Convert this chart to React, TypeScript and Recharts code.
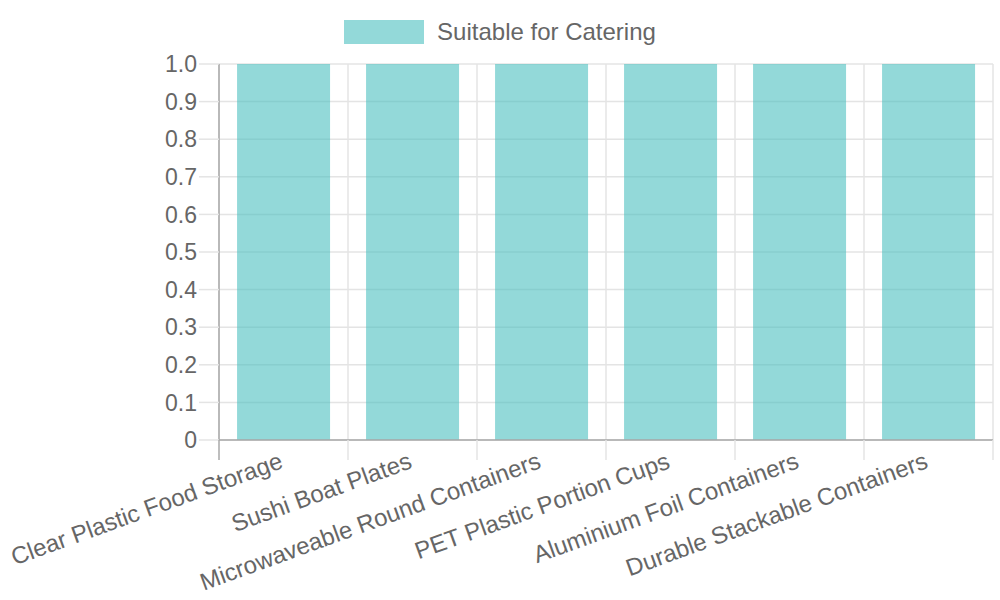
import React from 'react';
import { BarChart, Bar, XAxis, YAxis, CartesianGrid, Legend } from 'recharts';

const categories = [
  'Clear Plastic Food Storage',
  'Sushi Boat Plates',
  'Microwaveable Round Containers',
  'PET Plastic Portion Cups',
  'Aluminium Foil Containers',
  'Durable Stackable Containers',
];
const suitableForCatering = [1, 1, 1, 1, 1, 1];
const yTicks = [0, 0.1, 0.2, 0.3, 0.4, 0.5, 0.6, 0.7, 0.8, 0.9, 1.0];
const seriesName = 'Suitable for Catering';

const data = categories.map((name, i) => ({ name, value: suitableForCatering[i] }));

const FILL = 'rgba(75,192,192,0.6)';
const TEXT = '#666';
const GRID = '#e4e4e4';
const AXIS = '#a8a8a8';

const XTick = (props: any) => {
  const { x, y, payload, index, width, visibleTicksCount } = props;
  const half = width / visibleTicksCount / 2;
  const isLast = index === visibleTicksCount - 1;
  return (
    <g>
      <line x1={x - half} x2={x - half} y1={y} y2={y + 20} stroke={index === 0 ? AXIS : GRID} strokeWidth={1.5} />
      {isLast && <line x1={x + half} x2={x + half} y1={y} y2={y + 20} stroke={GRID} strokeWidth={1.5} />}
      <text
        transform={`translate(${x - 2},${y + 20}) rotate(-20)`}
        textAnchor="end"
        dy={8}
        fill={TEXT}
        fontSize={24}
      >
        {payload.value}
      </text>
    </g>
  );
};

const LegendContent = (props: any) => {
  const { payload } = props;
  return (
    <div style={{ display: 'flex', justifyContent: 'center', alignItems: 'center', height: 24 }}>
      {(payload || []).map((p: any) => (
        <div key={p.value} style={{ display: 'flex', alignItems: 'center' }}>
          <span style={{ display: 'inline-block', width: 80, height: 24, background: FILL, marginRight: 13 }} />
          <span style={{ fontSize: 24, color: TEXT, lineHeight: '24px' }}>{p.value}</span>
        </div>
      ))}
    </div>
  );
};

export default function App() {
  return (
    <div style={{ position: 'absolute', left: 0, top: 0, width: 1000, height: 600, fontFamily: '"Liberation Sans", Arial, sans-serif', background: '#fff' }}>
      <BarChart
        width={1000}
        height={600}
        data={data}
        margin={{ top: 20, right: 7, bottom: 0, left: 0 }}
        barCategoryGap="14%"
      >
        <Legend
          verticalAlign="top"
          align="center"
          width={1000}
          height={44}
          wrapperStyle={{ left: 0, top: 20, height: 44 }}
          content={<LegendContent />}
        />
        <CartesianGrid
          stroke={GRID}
          strokeWidth={1.5}
          verticalCoordinatesGenerator={({ offset }: any) =>
            categories.map((_, i) => offset.left + (i * offset.width) / categories.length).concat([offset.left + offset.width])
          }
        />
        <XAxis
          dataKey="name"
          height={160}
          interval={0}
          tickLine={false}
          tickSize={0}
          tickMargin={0}
          axisLine={{ stroke: AXIS, strokeWidth: 1.5 }}
          tick={<XTick />}
        />
        <YAxis
          width={219}
          domain={[0, 1]}
          ticks={yTicks}
          interval={0}
          tickSize={20}
          tickMargin={2}
          tickLine={{ stroke: GRID, strokeWidth: 1.5 }}
          axisLine={{ stroke: AXIS, strokeWidth: 1.5 }}
          tick={{ fill: TEXT, fontSize: 23 }}
          tickFormatter={(v: number) => (v === 0 ? '0' : v.toFixed(1))}
        />
        <Bar dataKey="value" name={seriesName} fill={FILL} isAnimationActive={false} />
      </BarChart>
    </div>
  );
}
